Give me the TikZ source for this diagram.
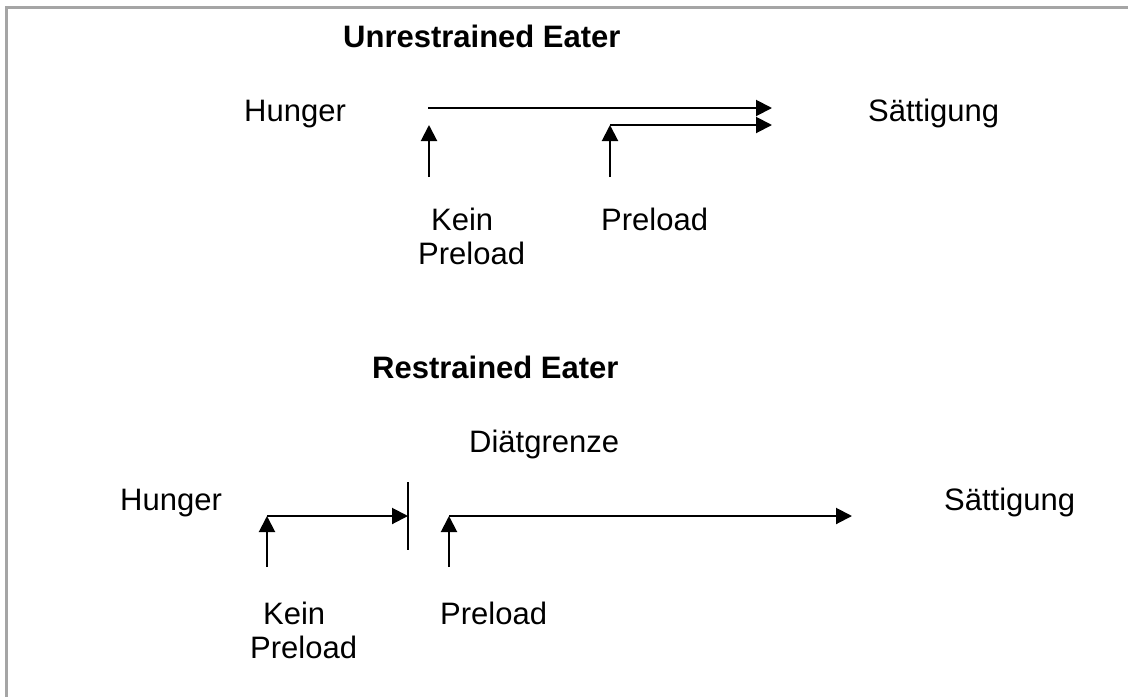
\documentclass[tikz,border=0pt]{standalone}
\usepackage{fontspec}
\setmainfont{Liberation Sans}
\usetikzlibrary{arrows.meta}
\tikzset{
  lbl/.style={anchor=base west, inner sep=0pt, font=\fontsize{31}{36}\selectfont},
  ttl/.style={lbl, font=\fontsize{31}{36}\selectfont\bfseries},
  arr/.style={line width=2pt, -{Triangle[length=16pt 0,width=16pt 0]}},
  ln/.style={line width=2pt},
  frame/.style={line width=3pt, draw={rgb,255:red,165;green,165;blue,165}}
}
\begin{document}
\begin{tikzpicture}[x=1pt,y=-1pt]
\useasboundingbox (0,0) rectangle (1128,697);
\draw[frame] (6,697) -- (6,7) -- (1128,7);
% Unrestrained
\node[ttl] (t1) at (343,47) {Unrestrained Eater};
\node[lbl] (h1) at (244,121) {Hunger};
\node[lbl] (s1) at (868,121) {Sättigung};
\node[lbl] (k1) at (431,230) {Kein};
\node[lbl] (kp1) at (418,264) {Preload};
\node[lbl] (p1) at (601,230) {Preload};
\coordinate (a1s) at (429,177);
\coordinate (a1t) at (429,125);
\coordinate (b1s) at (610,177);
\coordinate (b1t) at (610,125);
\coordinate (l1s) at (428,108);
\coordinate (l1e) at (772,108);
\coordinate (l2e) at (772,125);
\draw[arr] (a1s) -- (a1t);
\draw[arr] (b1s) -- (b1t);
\draw[arr] (l1s) -- (l1e);
\draw[arr] (b1t) -- (l2e);
% Restrained
\node[ttl] (t2) at (372,378) {Restrained Eater};
\node[lbl] (d2) at (469,452) {Diätgrenze};
\node[lbl] (h2) at (120,510) {Hunger};
\node[lbl] (s2) at (944,510) {Sättigung};
\node[lbl] (k2) at (263,624) {Kein};
\node[lbl] (kp2) at (250,658) {Preload};
\node[lbl] (p2) at (440,624) {Preload};
\coordinate (a2s) at (267,567);
\coordinate (a2t) at (267,516);
\coordinate (b2s) at (449,567);
\coordinate (b2t) at (449,516);
\coordinate (g1) at (408,482);
\coordinate (g2) at (408,550);
\coordinate (gm) at (408,516);
\coordinate (e2) at (852,516);
\draw[arr] (a2s) -- (a2t);
\draw[arr] (b2s) -- (b2t);
\draw[arr] (a2t) -- (gm);
\draw[arr] (b2t) -- (e2);
\draw[ln] (g1) -- (g2);
\end{tikzpicture}
\end{document}
